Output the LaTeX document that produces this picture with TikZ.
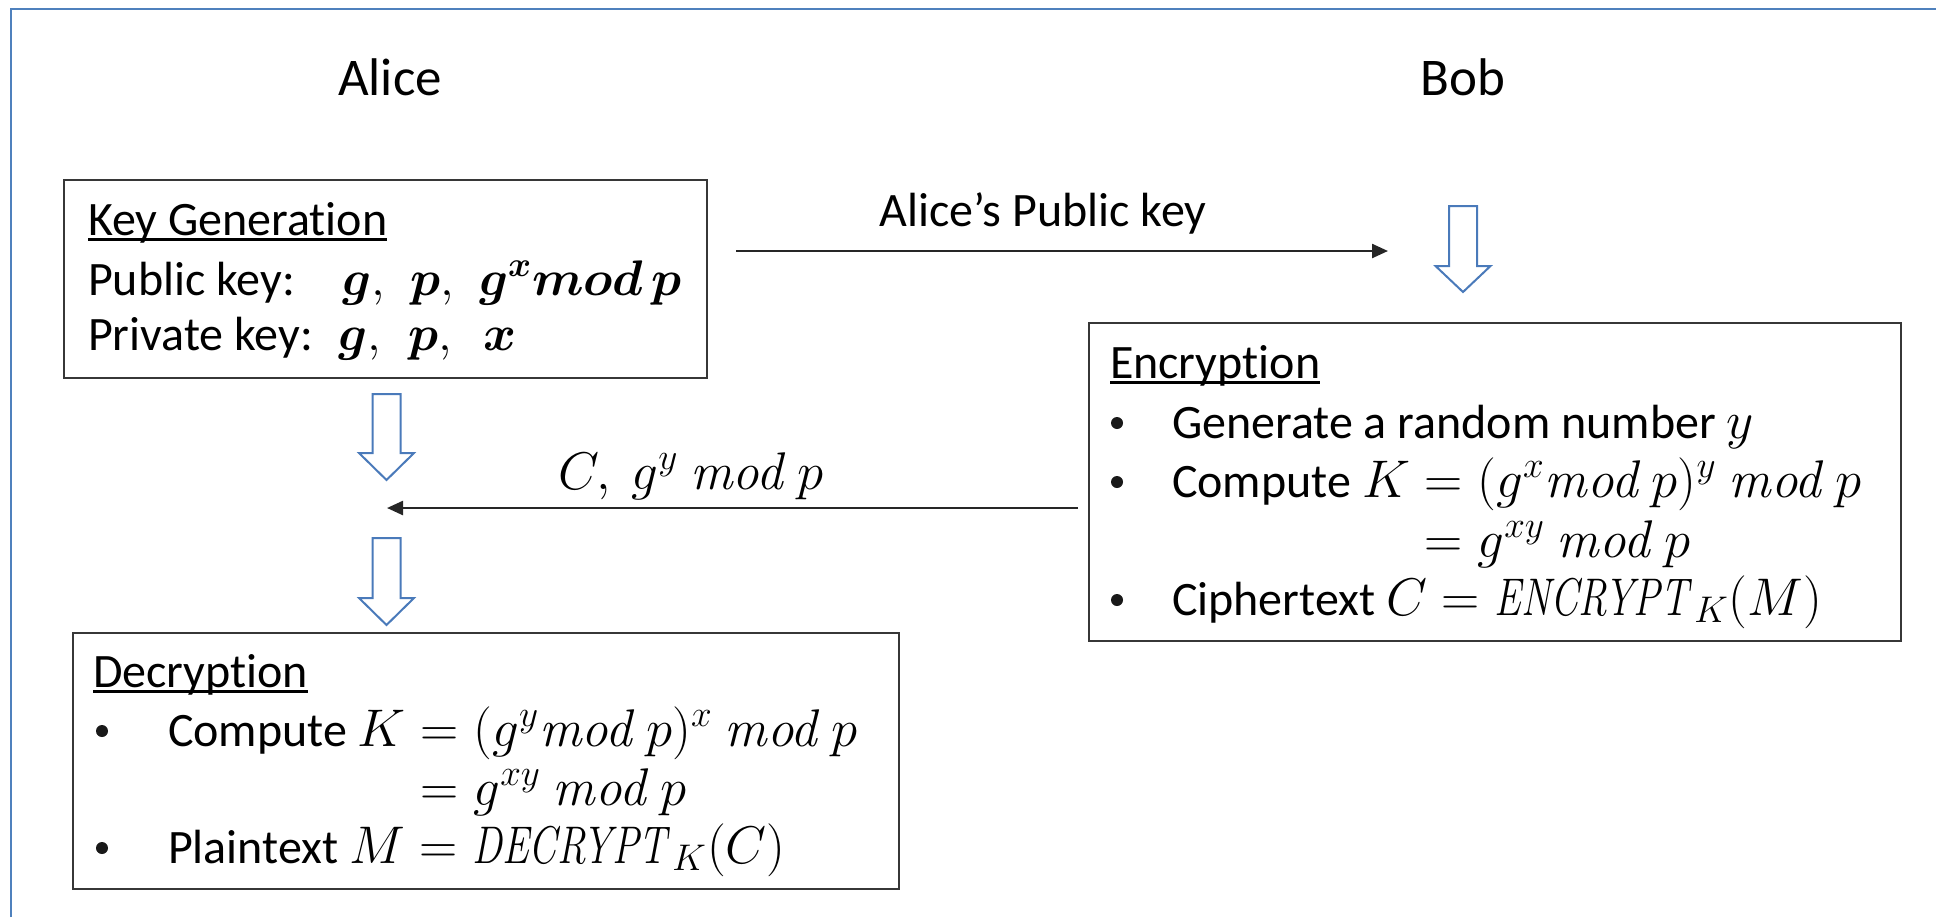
\RequirePackage{fix-cm}
\documentclass[tikz,border=0pt]{standalone}
\usepackage[no-math]{fontspec}
\setmainfont{Carlito}[Ligatures=NoCommon]
\usepackage{amsmath}
\usepackage{bm}
\usetikzlibrary{arrows.meta}
\definecolor{framebl}{RGB}{79,129,189}
\definecolor{arrowbl}{RGB}{74,122,186}
\definecolor{boxgray}{RGB}{55,55,55}
% heading with an underline that crosses the descenders
\newcommand\headul[1]{\setbox0\hbox{#1}\rlap{\rule[-0.13em]{\wd0}{0.06em}}\box0}
% formulas are set a little larger than the running text
\newcommand\mth[1]{{\fontsize{26.5}{29}\selectfont$#1$}}
\newcommand\bmth[1]{{\fontsize{25}{29}\selectfont$#1$}}
% narrow italic capitals for the cipher function names
\newcommand\fname[1]{\scalebox{0.76}[1]{$\mathit{#1}$}}
% hollow downward block arrow: x, top, neck, tip
\newcommand\downblock[4]{%
  \draw[blockarrow] (#1-14,#2) -- (#1+14,#2) -- (#1+14,#3) -- (#1+27.5,#3)
    -- (#1,#4) -- (#1-27.5,#3) -- (#1-14,#3) -- cycle;}
\begin{document}
\begin{tikzpicture}[x=0.5pt,y=-0.5pt,
  every node/.style={inner sep=0pt, outer sep=0pt},
  body/.style={anchor=base west, font=\fontsize{24}{29}\selectfont},
  dot/.style={circle, fill=black!90, minimum size=6pt},
  title/.style={anchor=base, font=\fontsize{26.5}{32}\selectfont},
  panel/.style={draw=boxgray, line width=1pt},
  msg/.style={draw=black!85, line width=1.2pt, -{Triangle[length=8pt,width=7pt]}},
  blockarrow/.style={draw=arrowbl, line width=1pt, fill=white, line join=miter},
]
\useasboundingbox (0,0) rectangle (1936,917);

% outer frame (top and left edges)
\draw[framebl, line width=1.2pt] (11,917) -- (11,9) -- (1936,9);

% party names
\node[title] (alice) at (390,95) {Alice};
\node[title] (bob) at (1463,95) {Bob};

% panels
\node[panel, minimum width=321.5pt, minimum height=99pt] (kg) at (385.5,279) {};
\node[panel, minimum width=406pt, minimum height=159pt] (enc) at (1495,482) {};
\node[panel, minimum width=413pt, minimum height=128pt] (dec) at (486,761) {};

% key generation
\node[body] (kgh) at (88,235) {\headul{Key Generation}};
\node[body] (kgpub) at (88,295) {Public key:};
\node[body] (kgpriv) at (88,350) {Private key:};
\node[body] (kgpubg) at (342,295) {\bmth{\bm{g},}};
\node[body] (kgpubp) at (410,295) {\bmth{\bm{p},}};
\node[body] (kgpubx) at (479,295) {\bmth{\bm{g^{x}}\bm{mod}\,\bm{p}}};
\node[body] (kgprivg) at (338,350) {\bmth{\bm{g},}};
\node[body] (kgprivp) at (408,350) {\bmth{\bm{p},}};
\node[body] (kgprivx) at (483,350) {\bmth{\bm{x}}};

% encryption
\node[body] (ench) at (1110,378) {\headul{Encryption}};
\node[dot] (encb1) at (1117,423) {};
\node[dot] (encb2) at (1117,482) {};
\node[dot] (encb3) at (1117,600) {};
\node[body] (enc1) at (1172,438) {Generate a random number \mth{y}};
\node[body] (enc2) at (1172,497) {Compute \mth{K=(g^{x}\mathit{mod}\,p)^{y}\ \mathit{mod}\,p}};
\node[body] (enc3) at (1172,557) {\phantom{Compute \mth{K}}\mth{{}=g^{xy}\ \mathit{mod}\,p}};
\node[body] (enc4) at (1172,615) {Ciphertext \mth{C=\fname{ENCRYPT}_{K}(M)}};

% decryption
\node[body] (dech) at (93,687) {\headul{Decryption}};
\node[dot] (decb1) at (102,731) {};
\node[dot] (decb2) at (102,848) {};
\node[body] (dec1) at (168,746) {Compute \mth{K=(g^{y}\mathit{mod}\,p)^{x}\ \mathit{mod}\,p}};
\node[body] (dec2) at (168,805) {\phantom{Compute \mth{K}}\mth{{}=g^{xy}\ \mathit{mod}\,p}};
\node[body] (dec3) at (168,863) {Plaintext \mth{M=\fname{DECRYPT}_{K}(C)}};

% messages
\node[body, anchor=base] (pklabel) at (1043,226) {Alice’s Public key};
\node[body, anchor=base] (clabel) at (691,489) {\mth{C,\ g^{y}\ \mathit{mod}\,p}};
\coordinate (pkto) at (1388,251);
\coordinate (cto) at (387,508);
\draw[msg] ([shift={(14.5pt,14pt)}]kg.east) -- (pkto);
\draw[msg] ([shift={(-5.5pt,-13pt)}]enc.west) -- (cto);

% flow arrows
\downblock{1463}{206}{266}{292}
\downblock{386.5}{394}{453}{480}
\downblock{386.5}{538}{598}{625}
\end{tikzpicture}
\end{document}
